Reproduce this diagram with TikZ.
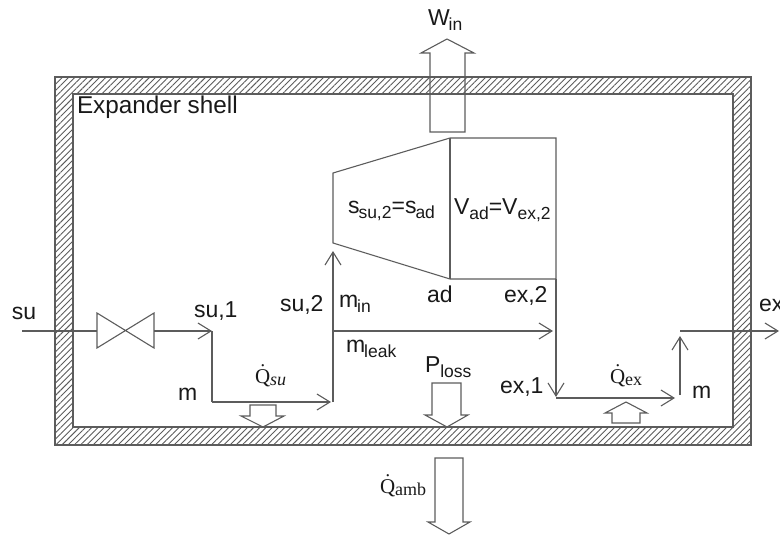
\documentclass[tikz,border=0pt]{standalone}
\usepackage{fontspec}
\setmainfont{Liberation Sans}
\newfontfamily\qfont{Liberation Serif}
\usetikzlibrary{arrows.meta,patterns.meta}
\definecolor{linegray}{gray}{0.36}
\definecolor{txtgray}{gray}{0.1}
\newcommand{\lowtxt}[1]{\raisebox{-5.5pt}{\fontsize{17.5}{18}\selectfont #1}}
\newcommand{\qlabel}[1]{{\qfont\fontsize{21}{24}\selectfont\.Q\raisebox{-2pt}{\fontsize{18}{20}\selectfont #1}}}
\tikzset{
  flow/.style={draw=linegray,line width=1.1pt,-{Straight Barb[length=13pt,width=16pt,line width=1.1pt]}},
  wire/.style={draw=linegray,line width=1.1pt,line join=miter},
  lbl/.style={anchor=base west,inner sep=0pt,outer sep=0pt,text=txtgray,font=\fontsize{23}{26}\selectfont}
}
\begin{document}
\begin{tikzpicture}[x=1pt,y=-1pt]
\useasboundingbox (0,0) rectangle (780,538);
% shell wall
\path[pattern={Lines[angle=45,distance=4.4pt,line width=.9pt]},pattern color=linegray,even odd rule]
  (55,77) rectangle (751,445) (73,94) rectangle (733,427);
\draw[wire] (55,77) rectangle (751,445);
\draw[wire] (73,94) rectangle (733,427);
% coordinates
\coordinate (suIn) at (22,331);
\coordinate (vL) at (97,331);
\coordinate (vR) at (154,331);
\coordinate (su1) at (212,331);
\coordinate (mL) at (212,402);
\coordinate (su2low) at (331,402);
\coordinate (su2) at (333,331);
\coordinate (su2b) at (333,402);
\coordinate (su2top) at (333,251);
\coordinate (leakEnd) at (553,331);
\coordinate (c1) at (333,173);
\coordinate (c2) at (450,138);
\coordinate (c3) at (556,138);
\coordinate (c4) at (556,279);
\coordinate (c5) at (450,279);
\coordinate (c6) at (333,243);
\coordinate (ex1) at (556,397);
\coordinate (ex1b) at (556,398);
\coordinate (mR) at (675,398);
\coordinate (upB) at (680,395);
\coordinate (upT) at (680,336);
\coordinate (exA) at (680,331);
\coordinate (exB) at (779,331);
% valve
\draw[wire] (vL) -- (97,313) -- (154,348) -- (vR) -- (154,313) -- (97,348) -- cycle;
% flows
\draw[wire] (suIn) -- (vL);
\draw[flow] (vR) -- (su1);
\draw[wire] (su1) -- (mL);
\draw[flow] (mL) -- (su2low);
\draw[flow] (su2b) -- (su2top);
\draw[flow] (su2) -- (leakEnd);
\draw[flow] (c4) -- (ex1);
\draw[flow] (ex1b) -- (mR);
\draw[flow] (upB) -- (upT);
\draw[flow] (exA) -- (exB);
% machine
\draw[wire] (c6) -- (c1) -- (c2) -- (c3) -- (c4) -- (c5) -- cycle;
\draw[wire] (c2) -- (c5);
% block arrows
\draw[wire] (430,132) -- (430,53) -- (421,53) -- (447,39) -- (474,53) -- (465,53) -- (465,132) -- cycle;
\draw[wire] (250,405) -- (250,416) -- (241,416) -- (263,427) -- (284,416) -- (276,416) -- (276,405) -- cycle;
\draw[wire] (432,383) -- (432,415) -- (425,415) -- (447,427) -- (468,415) -- (461,415) -- (461,383) -- cycle;
\draw[wire] (612,423) -- (612,413) -- (605,413) -- (626,402) -- (647,413) -- (640,413) -- (640,423) -- cycle;
\draw[wire] (435,458) -- (435,522) -- (428,522) -- (449,534) -- (470,522) -- (463,522) -- (463,458) -- cycle;
% labels
\node[lbl,font=\fontsize{24.3}{26}\selectfont] (tShell) at (77,113) {Expander shell};
\node[lbl] (tSu) at (12,319) {su};
\node[lbl] (tSu1) at (194,317) {su,1};
\node[lbl] (tSu2) at (280,311) {su,2};
\node[lbl] (tMin) at (339,307) {m\kern-1pt\lowtxt{in}};
\node[lbl] (tLeak) at (346,352) {m\kern-1pt\lowtxt{leak}};
\node[lbl] (tS) at (348,213) {s\kern-1pt\lowtxt{su,2}=s\kern-1pt\lowtxt{ad}};
\node[lbl] (tV) at (454,214) {V\lowtxt{ad}=V\lowtxt{ex,2}};
\node[lbl] (tAd) at (427,302) {ad};
\node[lbl] (tEx2) at (504,302) {ex,2};
\node[lbl] (tEx) at (759,311) {ex};
\node[lbl] (tEx1) at (500,393) {ex,1};
\node[lbl] (tMr) at (692,398) {m};
\node[lbl] (tMl) at (178,400) {m};
\node[lbl] (tW) at (428,25) {W\kern-1pt\lowtxt{in}};
\node[lbl] (tP) at (425,372) {P\lowtxt{loss}};
\node[lbl] (tQs) at (255,383) {\qlabel{\itshape su}};
\node[lbl] (tQe) at (610,383) {\qlabel{ex}};
\node[lbl] (tQa) at (380,493) {\qlabel{amb}};
\end{tikzpicture}
\end{document}
